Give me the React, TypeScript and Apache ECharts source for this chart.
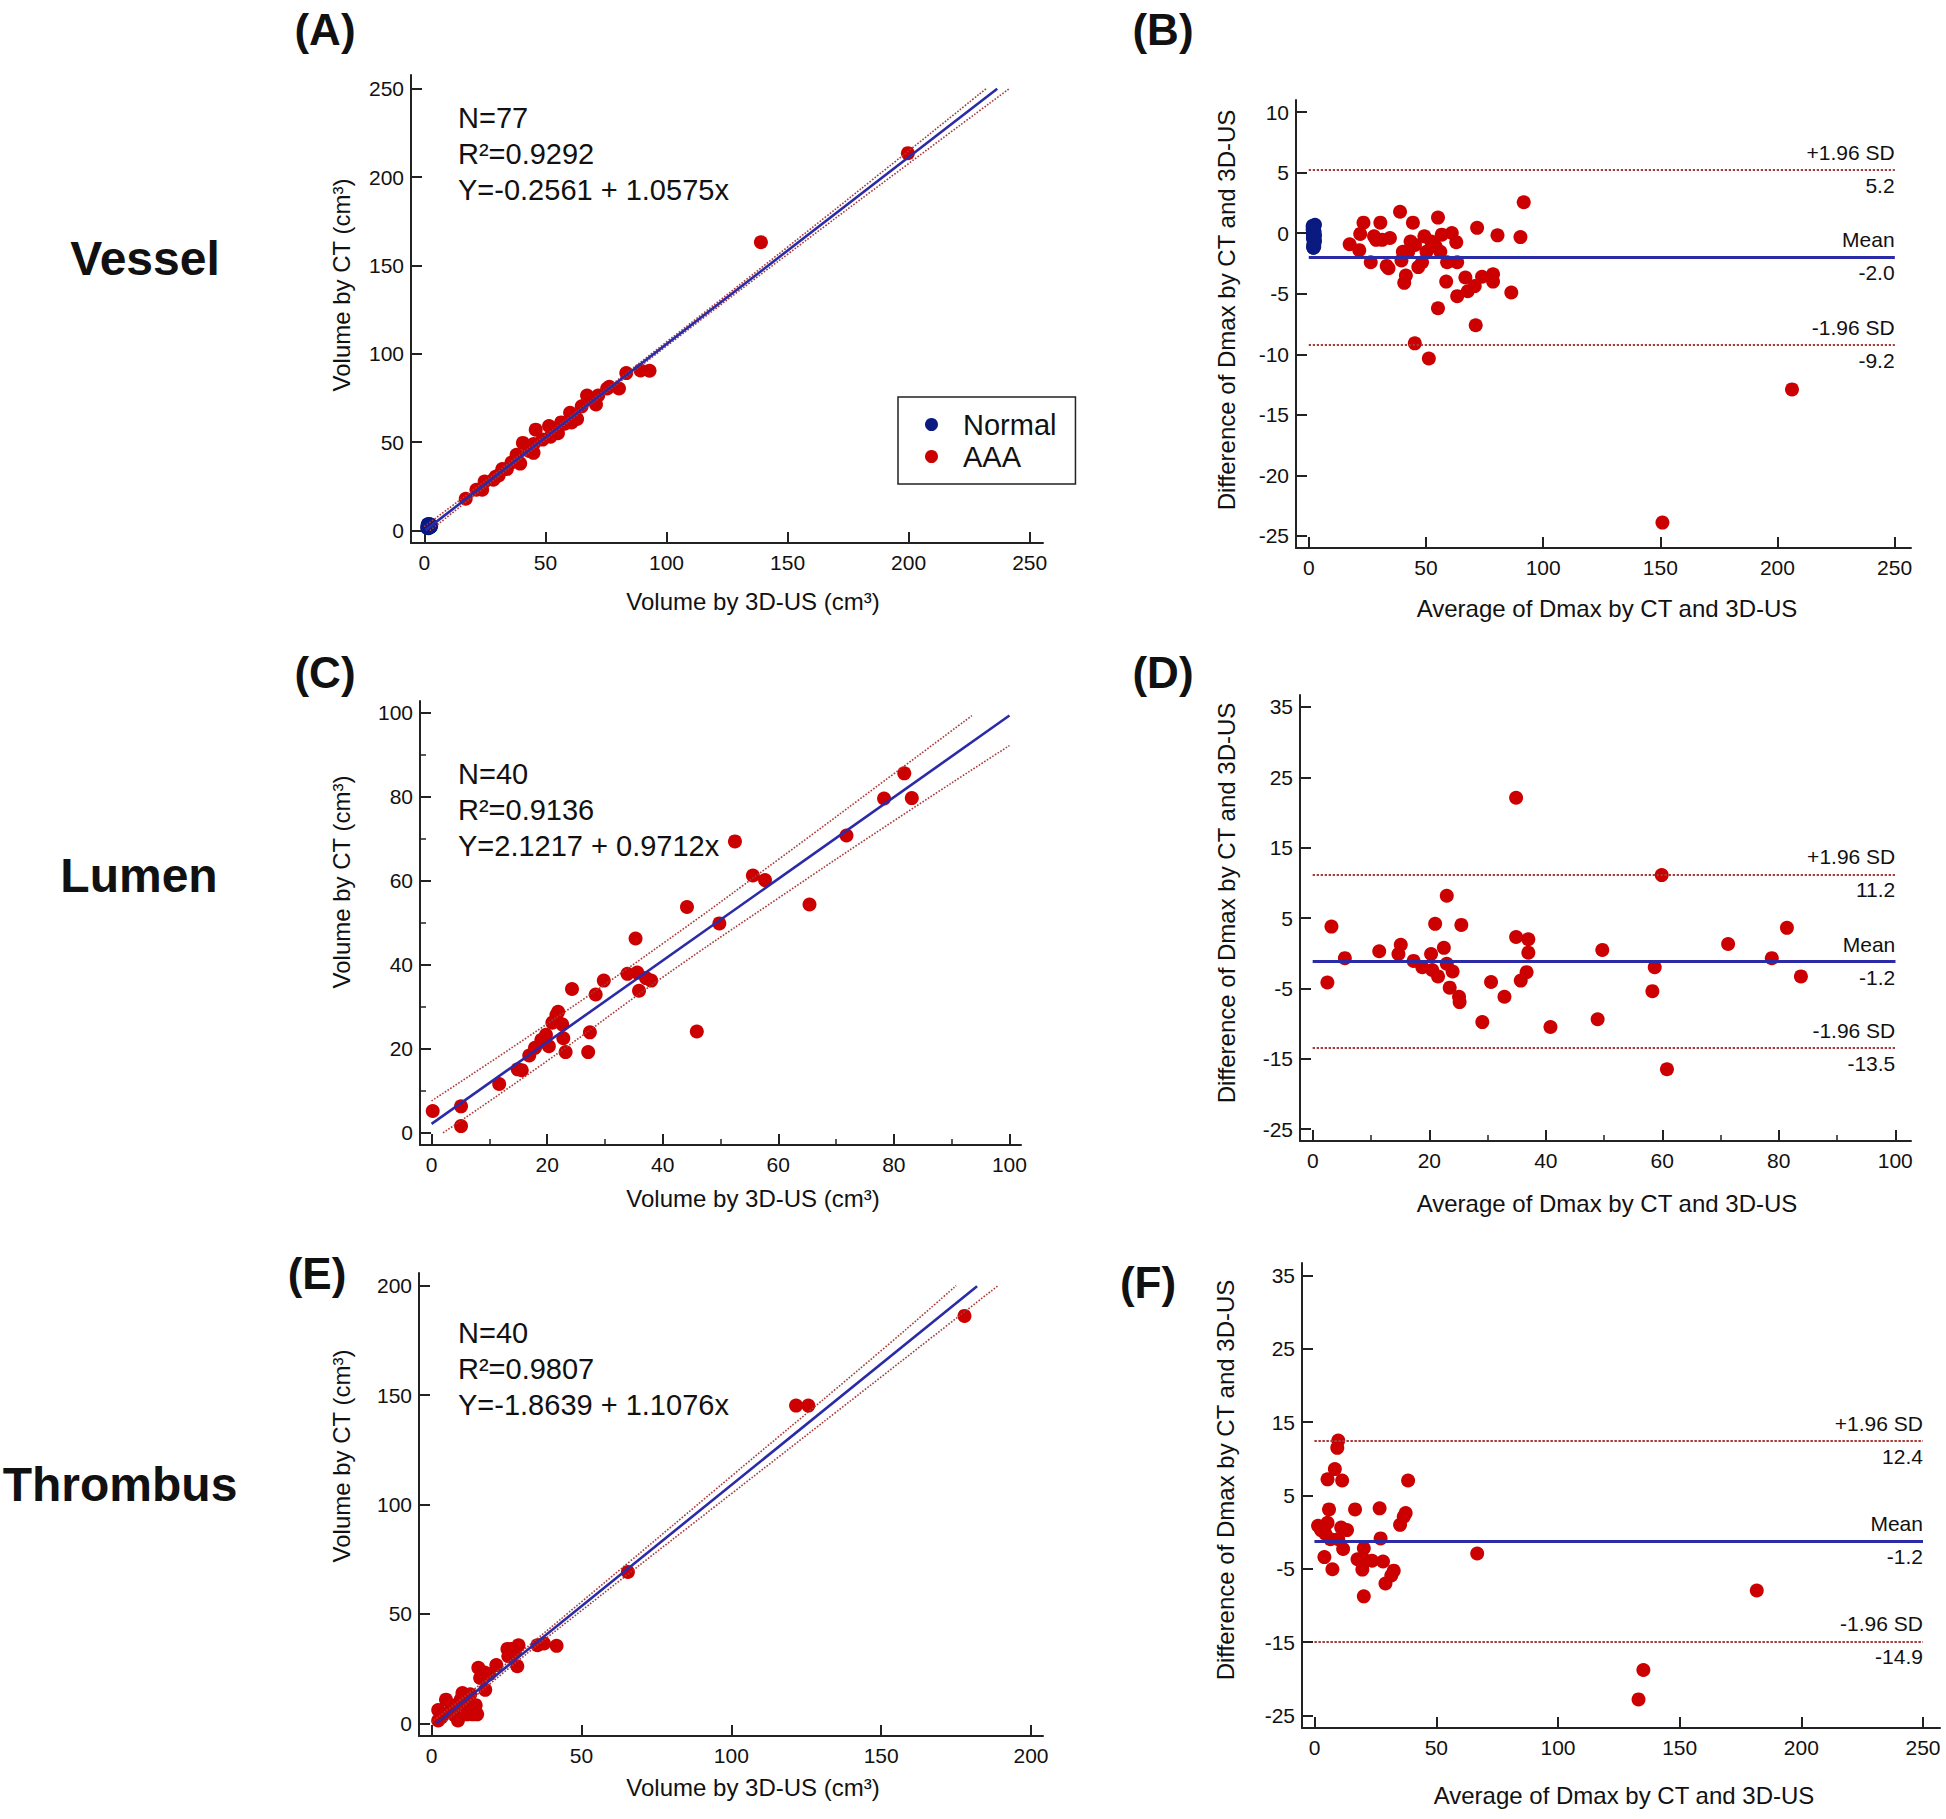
import React, { useEffect, useRef } from 'react';
import * as echarts from 'echarts';

const FONT = '"Liberation Sans", Arial, Helvetica, sans-serif';
const RED = '#cc0000';
const NAVY = '#0b1a80';
const BLUE = '#2b2ba8';
const BAND = '#a83a3a';
const INK = '#111111';

// ---------- (A) Vessel: volume by CT vs 3D-US ----------
const vesselNormalUS = [1.2, 1.5, 1.7, 1.8, 2.0, 2.1, 2.3, 2.5, 1.4, 1.9, 2.2, 2.6, 1.6, 2.0, 2.4, 1.8, 2.7, 1.3, 2.1, 1.9, 2.3, 1.7, 2.5, 2.0, 1.5, 2.2, 2.8, 1.8, 2.4, 1.6, 2.1, 2.0, 2.6, 1.4, 2.3, 1.9, 2.2];
const vesselNormalCT = [1.5, 2.2, 1.4, 2.6, 3.1, 1.9, 2.8, 2.4, 3.4, 1.8, 3.6, 2.2, 2.9, 2.5, 3.3, 1.6, 2.9, 2.0, 2.7, 3.8, 1.9, 2.3, 3.0, 2.6, 1.7, 3.2, 2.5, 2.9, 2.1, 3.5, 2.4, 1.8, 3.1, 2.7, 2.2, 3.0, 2.6];
const vesselAaaUS = [17.1, 21.5, 23.9, 24.9, 28.5, 29.4, 30.7, 32.2, 34.1, 36.0, 38.1, 39.6, 40.7, 43.3, 45.1, 45.1, 46.0, 48.8, 51.5, 52.1, 53.4, 55.2, 56.5, 58.0, 60.2, 60.8, 63.1, 65.0, 67.2, 68.1, 70.9, 71.8, 75.5, 76.4, 80.4, 83.4, 89.3, 93.0, 139.0, 199.7];
const vesselAaaCT = [18.0, 23.1, 23.1, 27.8, 28.8, 30.4, 31.2, 34.8, 34.8, 38.5, 42.9, 37.9, 49.6, 45.0, 49.0, 44.0, 57.1, 51.5, 59.2, 53.1, 56.1, 55.1, 61.2, 60.5, 66.7, 61.2, 63.2, 70.3, 76.4, 74.4, 71.3, 76.4, 80.4, 81.4, 80.4, 89.1, 90.6, 90.4, 163.1, 213.5];
const vesselFit = [-0.2561, 1.0575]; // intercept, slope
const vesselFitX = [0.5, 236.6];
const vesselUpperX = [0, 50, 100, 150, 200, 232];
const vesselUpperY = [2.3, 53.8, 106.7, 160.4, 214.8, 250];
const vesselLowerX = [2.3, 50, 100, 150, 200, 241.6];
const vesselLowerY = [0, 51.4, 104.3, 156.3, 207.6, 250];
const vesselStats = ['N=77', 'R²=0.9292', 'Y=-0.2561 + 1.0575x'];

// ---------- (B) Vessel Bland-Altman ----------
const baVesselNormalAvg = [1.6, 2.0, 2.3, 1.8, 2.1, 2.5, 1.7, 2.2, 1.9, 2.4, 2.0, 1.6, 2.3, 2.1, 1.8, 2.6, 2.0, 2.2, 1.9, 2.4, 1.7, 2.1, 2.3, 2.0, 1.8, 2.5, 2.2, 1.9, 2.1, 2.4, 1.7, 2.0, 2.3, 1.9, 2.2, 2.6, 2.0];
const baVesselNormalDiff = [0.6, -0.3, 0.2, -1.1, 0.4, -0.6, 0.0, -0.9, 0.5, -0.2, -1.2, 0.3, -0.7, 0.1, -0.4, 0.7, -1.0, -0.1, 0.2, -0.8, 0.5, -0.5, -1.1, 0.3, 0.0, -0.6, 0.6, -0.3, -0.9, 0.1, -0.4, 0.4, -0.7, -1.2, 0.2, -0.2, -0.8];
const baVesselAvg = [17.4, 21.9, 21.5, 23.3, 26.4, 27.8, 28.7, 30.5, 31.3, 33.2, 34.0, 34.6, 38.9, 39.5, 40.1, 40.7, 41.4, 42.4, 43.4, 44.4, 45.3, 45.2, 46.7, 48.3, 49.3, 50.2, 51.2, 52.2, 54.1, 55.1, 55.1, 56.7, 56.1, 59.0, 58.6, 61.0, 62.9, 63.3, 63.3, 66.8, 67.8, 70.8, 71.2, 71.8, 73.9, 78.6, 78.6, 80.5, 86.4, 90.3, 91.7, 150.9, 206.2];
const baVesselDiff = [-0.91, -0.06, -1.4, 0.87, -2.4, -0.26, -0.55, 0.87, -0.55, -2.7, -2.9, -0.4, 1.77, -2.25, -1.54, -4.1, -3.5, -1.54, -0.69, 0.87, -0.97, -9.1, -2.8, -2.4, -0.26, -1.54, -10.35, -0.69, -1.1, 1.29, -6.2, -0.12, -1.54, -2.4, -4.0, 0.02, -0.74, -2.4, -5.2, -3.66, -4.8, -4.37, -7.6, 0.44, -3.6, -3.4, -4.0, -0.18, -4.9, -0.32, 2.56, -23.9, -12.9];
const baVesselLimits = [5.2, -2.0, -9.2]; // +1.96 SD, mean, -1.96 SD

// ---------- (C) Lumen: volume by CT vs 3D-US ----------
const lumenUS = [0.2, 5.1, 5.1, 11.7, 14.9, 15.6, 16.9, 17.9, 19.0, 19.4, 19.8, 20.3, 20.9, 21.6, 21.9, 22.6, 22.8, 23.2, 24.3, 27.1, 27.4, 28.4, 29.8, 33.9, 35.3, 35.6, 35.9, 37.1, 38.0, 44.2, 45.9, 49.8, 52.5, 55.6, 57.7, 65.4, 71.8, 78.3, 81.8, 83.1];
const lumenCT = [5.2, 6.3, 1.6, 11.6, 15.1, 14.9, 18.4, 20.2, 22.1, 21.7, 23.3, 20.6, 26.2, 28.0, 28.8, 25.8, 22.5, 19.2, 34.2, 19.2, 23.9, 32.9, 36.2, 37.8, 46.2, 38.1, 33.8, 36.8, 36.2, 53.7, 24.1, 49.8, 69.3, 61.2, 60.1, 54.3, 70.7, 79.5, 85.5, 79.6];
const lumenFit = [2.1217, 0.9712];
const lumenFitX = [0, 100];
const lumenUpperX = [0, 20, 40, 60, 80, 93.5];
const lumenUpperY = [7.6, 25.9, 45.0, 65.0, 85.4, 99.2];
const lumenLowerX = [2, 20, 40, 60, 80, 100];
const lumenLowerY = [0, 17.1, 37.0, 55.8, 74.2, 92.1];
const lumenStats = ['N=40', 'R²=0.9136', 'Y=2.1217 + 0.9712x'];

// ---------- (D) Lumen Bland-Altman ----------
const baLumenAvg = [2.5, 3.2, 5.5, 11.4, 14.7, 15.1, 17.3, 18.8, 20.3, 20.5, 21.0, 21.5, 22.5, 23.0, 23.0, 23.5, 24.0, 25.1, 25.2, 25.5, 29.1, 30.6, 32.9, 34.9, 34.9, 35.7, 36.7, 37.0, 37.0, 40.8, 48.9, 49.7, 58.3, 58.7, 59.9, 60.8, 71.3, 78.8, 81.4, 83.8];
const baLumenDiff = [-4.17, 3.78, -0.71, 0.27, -0.12, 1.2, -1.1, -2.0, -0.12, -2.4, 4.17, -3.3, 0.76, 8.17, -1.5, -4.9, -2.6, -6.2, -6.95, 4.02, -9.8, -4.1, -6.2, 22.1, 2.3, -3.9, -2.7, 1.98, 0.07, -10.5, -9.4, 0.46, -5.4, -2.0, 11.1, -16.5, 1.3, -0.71, 3.6, -3.3];
const baLumenLimits = [11.2, -1.2, -13.5];

// ---------- (E) Thrombus: volume by CT vs 3D-US ----------
const thrombusUS = [2.2, 2.2, 3.3, 4.0, 4.8, 6.3, 7.7, 8.0, 8.8, 9.7, 10.3, 10.7, 11.5, 11.8, 12.5, 12.9, 13.7, 14.4, 14.7, 15.2, 15.6, 16.2, 16.7, 17.7, 17.9, 19.2, 21.6, 25.3, 25.6, 26.6, 27.8, 28.6, 29.0, 35.3, 37.5, 41.7, 65.5, 121.6, 125.7, 177.8];
const thrombusCT = [1.3, 6.1, 2.8, 4.1, 10.8, 5.8, 3.7, 8.2, 1.3, 10.8, 13.8, 10.0, 7.5, 4.1, 6.1, 13.3, 4.1, 6.1, 8.3, 4.1, 25.4, 20.7, 23.2, 23.2, 15.3, 22.4, 26.6, 34.0, 30.7, 34.0, 32.4, 26.1, 35.7, 35.7, 36.5, 35.4, 69.2, 145.2, 145.2, 186.2];
const thrombusFit = [-1.8639, 1.1076];
const thrombusFitX = [1.7, 182];
const thrombusUpperX = [0, 25, 50, 100, 150, 175];
const thrombusUpperY = [0.6, 27.3, 55.5, 112.9, 170.3, 200];
const thrombusLowerX = [4, 25, 50, 100, 150, 189];
const thrombusLowerY = [0, 24.3, 51.5, 104.9, 158.3, 200];
const thrombusStats = ['N=40', 'R²=0.9807', 'Y=-1.8639 + 1.1076x'];

// ---------- (F) Thrombus Bland-Altman ----------
const baThrombusAvg = [1.4, 2.6, 4.0, 4.4, 5.3, 5.9, 5.3, 6.5, 7.3, 8.3, 9.3, 9.7, 9.7, 10.9, 11.3, 11.7, 13.3, 16.6, 17.6, 18.6, 19.6, 20.2, 20.2, 21.2, 23.6, 26.7, 27.1, 28.1, 29.1, 31.5, 32.5, 35.1, 36.6, 37.4, 38.4, 66.8, 133.1, 135.1, 181.7];
const baThrombusDiff = [0.88, 0.28, -3.4, -0.2, 1.27, 3.1, 7.2, -0.95, -5.05, 8.6, 11.5, 12.5, -0.95, 0.63, 7.05, -2.3, 0.28, 3.1, -3.7, -3.8, -5.1, -2.2, -8.75, -3.9, -3.9, 3.25, -0.85, -4.0, -7.0, -5.9, -5.25, 1.0, 2.1, 2.6, 7.05, -2.9, -22.8, -18.8, -7.96];
const baThrombusLimits = [12.4, -1.2, -14.9];

// ---------- axis ticks ----------
const ticks0to250 = [0, 50, 100, 150, 200, 250];
const ticks0to200 = [0, 50, 100, 150, 200];
const ticks0to100 = [0, 20, 40, 60, 80, 100];
const minor0to100 = [10, 30, 50, 70, 90];
const ticksBA1 = [-25, -20, -15, -10, -5, 0, 5, 10];
const ticksBA2 = [-25, -15, -5, 5, 15, 25, 35];

const rowLabels = ['Vessel', 'Lumen', 'Thrombus'];
const panelLetters = ['(A)', '(B)', '(C)', '(D)', '(E)', '(F)'];
const regXTitle = 'Volume by 3D-US (cm³)';
const regYTitle = 'Volume by CT (cm³)';
const baXTitle = 'Average of Dmax by CT and 3D-US';
const baYTitle = 'Difference of Dmax by CT and 3D-US';

const zip = (a: number[], b: number[]) => a.map((v, i) => [v, b[i]]);

type PanelDef = {
  grid: { left: number; top: number; width: number; height: number };
  x: { min: number; max: number; ticks: number[]; minor?: number[] };
  y: { min: number; max: number; ticks: number[]; minor?: number[] };
};

const panels: PanelDef[] = [
  { grid: { left: 411, top: 75, width: 632, height: 468 }, x: { min: -5.5, max: 255.5, ticks: ticks0to250 }, y: { min: -7, max: 257.7, ticks: ticks0to250 } },
  { grid: { left: 1296, top: 100, width: 615, height: 448 }, x: { min: -5.5, max: 257, ticks: ticks0to250 }, y: { min: -26, max: 11, ticks: ticksBA1 } },
  { grid: { left: 420, top: 701, width: 601, height: 444 }, x: { min: -2, max: 102, ticks: ticks0to100, minor: minor0to100 }, y: { min: -2.9, max: 102.7, ticks: ticks0to100, minor: minor0to100 } },
  { grid: { left: 1300, top: 695, width: 611, height: 446 }, x: { min: -2.2, max: 102.7, ticks: ticks0to100, minor: minor0to100 }, y: { min: -26.7, max: 36.7, ticks: ticksBA2 } },
  { grid: { left: 419, top: 1273, width: 624, height: 463 }, x: { min: -4.2, max: 204, ticks: ticks0to200 }, y: { min: -5.8, max: 205.8, ticks: ticks0to200 } },
  { grid: { left: 1302, top: 1263, width: 638, height: 465 }, x: { min: -5.2, max: 257, ticks: ticks0to250 }, y: { min: -26.7, max: 36.7, ticks: ticksBA2 } },
];

function buildOption() {
  const grids: any[] = [];
  const xAxes: any[] = [];
  const yAxes: any[] = [];
  const primX: number[] = [];
  const primY: number[] = [];
  const axisLine = { show: true, onZero: false, lineStyle: { color: '#222', width: 2 } };
  const labelStyle = { fontSize: 21, color: INK, fontFamily: FONT };

  panels.forEach((p, gi) => {
    grids.push({ ...p.grid, containLabel: false });
    primX.push(xAxes.length);
    xAxes.push({
      type: 'value', gridIndex: gi, min: p.x.min, max: p.x.max, position: 'bottom',
      axisLine,
      axisTick: { show: true, inside: true, length: 11, customValues: p.x.ticks, lineStyle: { color: '#222', width: 2 } },
      axisLabel: { show: true, customValues: p.x.ticks, margin: 9, ...labelStyle },
      splitLine: { show: false },
    });
    if (p.x.minor) {
      xAxes.push({
        type: 'value', gridIndex: gi, min: p.x.min, max: p.x.max, position: 'bottom',
        axisLine: { show: false, onZero: false },
        axisTick: { show: true, inside: true, length: 6, customValues: p.x.minor, lineStyle: { color: '#222', width: 1.5 } },
        axisLabel: { show: false },
        splitLine: { show: false },
      });
    }
    primY.push(yAxes.length);
    yAxes.push({
      type: 'value', gridIndex: gi, min: p.y.min, max: p.y.max, position: 'left',
      axisLine,
      axisTick: { show: true, inside: true, length: 11, customValues: p.y.ticks, lineStyle: { color: '#222', width: 2 } },
      axisLabel: { show: true, customValues: p.y.ticks, margin: 7, ...labelStyle },
      splitLine: { show: false },
    });
    if (p.y.minor) {
      yAxes.push({
        type: 'value', gridIndex: gi, min: p.y.min, max: p.y.max, position: 'left',
        axisLine: { show: false, onZero: false },
        axisTick: { show: true, inside: true, length: 6, customValues: p.y.minor, lineStyle: { color: '#222', width: 1.5 } },
        axisLabel: { show: false },
        splitLine: { show: false },
      });
    }
  });

  const series: any[] = [];
  const scatter = (gi: number, name: string, data: number[][], color: string, extra: any = {}) =>
    series.push({
      type: 'scatter', name, xAxisIndex: primX[gi], yAxisIndex: primY[gi], data,
      symbolSize: 14, itemStyle: { color, opacity: 1 }, z: 2, silent: true, ...extra,
    });
  const line = (gi: number, name: string, data: number[][], style: any, smooth = false) =>
    series.push({
      type: 'line', name, xAxisIndex: primX[gi], yAxisIndex: primY[gi], data, showSymbol: false,
      symbol: 'none', smooth, lineStyle: style, z: 3, silent: true,
    });
  const fitLine = (fit: number[], xr: number[]) => xr.map((x) => [x, fit[0] + fit[1] * x]);

  const regPanel = (gi: number, fit: number[], fitX: number[], ux: number[], uy: number[], lx: number[], ly: number[]) => {
    line(gi, 'upper' + gi, zip(ux, uy), { color: BAND, width: 1.6, type: 'dotted' }, true);
    line(gi, 'lower' + gi, zip(lx, ly), { color: BAND, width: 1.6, type: 'dotted' }, true);
    line(gi, 'fit' + gi, fitLine(fit, fitX), { color: BLUE, width: 2.6 });
  };

  const limitLines = (limits: number[], xEnd: number) => {
    const names = ['+1.96 SD', 'Mean', '-1.96 SD'];
    const data: any[] = [];
    limits.forEach((v, i) => {
      const style = i === 1 ? { color: BLUE, width: 3, type: 'solid' } : { color: BAND, width: 2, type: 'dotted' };
      const lab = { show: true, fontSize: 21, color: INK, fontFamily: FONT };
      data.push([
        { coord: [0, v], lineStyle: style, label: { ...lab, position: 'insideEndTop', formatter: names[i], distance: [0, 7] } },
        { coord: [xEnd, v] },
      ]);
      data.push([
        { coord: [0, v], lineStyle: style, label: { ...lab, position: 'insideEndBottom', formatter: v.toFixed(1), distance: [0, 5] } },
        { coord: [xEnd, v] },
      ]);
    });
    return { symbol: ['none', 'none'], silent: true, animation: false, data };
  };

  // (A)
  scatter(0, 'Normal', zip(vesselNormalUS, vesselNormalCT), NAVY);
  scatter(0, 'AAA', zip(vesselAaaUS, vesselAaaCT), RED);
  regPanel(0, vesselFit, vesselFitX, vesselUpperX, vesselUpperY, vesselLowerX, vesselLowerY);
  // (B)
  scatter(1, 'Normal', zip(baVesselNormalAvg, baVesselNormalDiff), NAVY);
  scatter(1, 'AAA', zip(baVesselAvg, baVesselDiff), RED, { markLine: limitLines(baVesselLimits, 250) });
  // (C)
  scatter(2, 'Lumen', zip(lumenUS, lumenCT), RED);
  regPanel(2, lumenFit, lumenFitX, lumenUpperX, lumenUpperY, lumenLowerX, lumenLowerY);
  // (D)
  scatter(3, 'Lumen BA', zip(baLumenAvg, baLumenDiff), RED, { markLine: limitLines(baLumenLimits, 100) });
  // (E)
  scatter(4, 'Thrombus', zip(thrombusUS, thrombusCT), RED);
  regPanel(4, thrombusFit, thrombusFitX, thrombusUpperX, thrombusUpperY, thrombusLowerX, thrombusLowerY);
  // (F)
  scatter(5, 'Thrombus BA', zip(baThrombusAvg, baThrombusDiff), RED, { markLine: limitLines(baThrombusLimits, 250) });

  const txt = (x: number, y: number, text: string, size: number, opts: any = {}) => ({
    type: 'text', x, y, rotation: opts.rotation || 0, silent: true,
    style: {
      text, fontSize: size, fontFamily: FONT, fontWeight: opts.bold ? 'bold' : 'normal', fill: INK,
      align: opts.align || 'center', verticalAlign: 'middle',
      textAlign: opts.align || 'center', textVerticalAlign: 'middle',
    },
  });

  const graphic: any[] = [];
  const letterPos = [[325, 29], [1163, 29], [325, 672], [1163, 672], [317, 1273], [1148, 1282]];
  panelLetters.forEach((t, i) => graphic.push(txt(letterPos[i][0], letterPos[i][1], t, 44, { bold: true })));
  const rowPos = [[145, 258], [139, 875], [120, 1484]];
  rowLabels.forEach((t, i) => graphic.push(txt(rowPos[i][0], rowPos[i][1], t, 48, { bold: true })));

  const xTitlePos = [[753, 601], [1607, 608], [753, 1198], [1607, 1203], [753, 1787], [1624, 1795]];
  const yTitlePos = [[341, 285], [1226, 310], [341, 882], [1226, 903], [341, 1456], [1225, 1480]];
  for (let i = 0; i < 6; i++) {
    const isReg = i % 2 === 0;
    graphic.push(txt(xTitlePos[i][0], xTitlePos[i][1], isReg ? regXTitle : baXTitle, 24));
    graphic.push(txt(yTitlePos[i][0], yTitlePos[i][1], isReg ? regYTitle : baYTitle, 24, { rotation: Math.PI / 2 }));
  }

  const statsPos = [[458, 118], [458, 774], [458, 1333]];
  [vesselStats, lumenStats, thrombusStats].forEach((lines, k) => {
    lines.forEach((t, j) => graphic.push(txt(statsPos[k][0], statsPos[k][1] + j * 36, t, 29, { align: 'left' })));
  });

  return {
    animation: false,
    backgroundColor: '#ffffff',
    grid: grids,
    xAxis: xAxes,
    yAxis: yAxes,
    legend: {
      data: ['Normal', 'AAA'],
      left: 898, top: 397, orient: 'vertical',
      padding: [13, 19, 13, 27], itemGap: 3, itemWidth: 13, itemHeight: 13, icon: 'circle',
      borderColor: '#222', borderWidth: 1.5, backgroundColor: '#fff',
      textStyle: { fontSize: 29, color: INK, fontFamily: FONT, padding: [0, 0, 0, 20] },
      selectedMode: false,
    },
    series,
    graphic,
  };
}

export default function App() {
  const ref = useRef<HTMLDivElement>(null);
  useEffect(() => {
    if (!ref.current) return;
    const chart = echarts.init(ref.current, null, { renderer: 'svg' });
    chart.setOption(buildOption() as any);
    return () => chart.dispose();
  }, []);
  return (
    <div
      ref={ref}
      style={{ position: 'absolute', left: 0, top: 0, width: 1946, height: 1819, background: '#fff' }}
    />
  );
}
